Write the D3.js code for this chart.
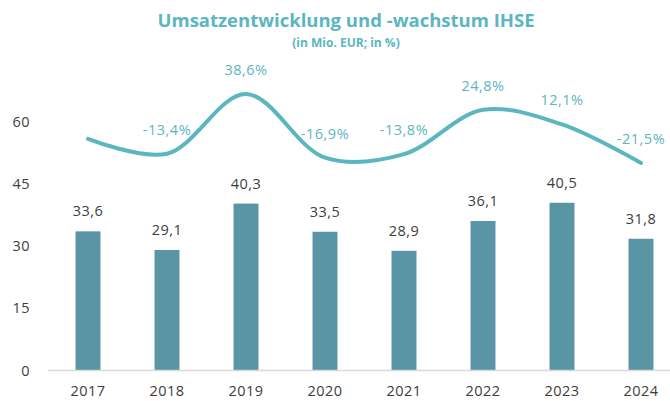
<!DOCTYPE html>
<html>
<head>
<meta charset="utf-8">
<script src="https://cdn.jsdelivr.net/npm/d3@7"></script>
<style>
  body { margin: 0; background: #fff; }
  svg { display: block; font-family: "Open Sans", sans-serif; }
  .num { letter-spacing: 0.5px; }
</style>
</head>
<body>
<svg id="chart" width="670" height="401"></svg>
<script>
var years = ['2017', '2018', '2019', '2020', '2021', '2022', '2023', '2024'];
var umsatz = [33.6, 29.1, 40.3, 33.5, 28.9, 36.1, 40.5, 31.8];
var wachstum = [-0.5, -13.4, 38.6, -16.9, -13.8, 24.8, 12.1, -21.5];
var wachstumLabels = ['', '-13,4%', '38,6%', '-16,9%', '-13,8%', '24,8%', '12,1%', '-21,5%'];
var yTicks = [0, 15, 30, 45, 60];

var barColour = '#5a95a6',
    lineColour = '#5bb6bf',
    textColour = '#3d3d3d';

var svg = d3.select('#chart');

var x = d3.scaleBand()
          .domain(years)
          .range([48.5, 680.5])
          .paddingInner(0.684)
          .paddingOuter(0.342);

var y = d3.scaleLinear()
          .domain([0, 60])
          .range([370.5, 122]);

// growth line sits on its own hidden scale
var yLine = d3.scaleLinear()
              .domain([-25, 40])
              .range([167, 92.4]);

var fmt = function(v) { return d3.format('.1f')(v).replace('.', ','); };

// title
svg.append('text')
   .attr('x', 346).attr('y', 27)
   .attr('text-anchor', 'middle')
   .attr('fill', lineColour)
   .attr('font-size', 18.5)
   .attr('font-weight', 700)
   .text('Umsatzentwicklung und -wachstum IHSE');

svg.append('text')
   .attr('x', 346).attr('y', 47)
   .attr('text-anchor', 'middle')
   .attr('fill', lineColour)
   .attr('font-size', 12)
   .attr('font-weight', 700)
   .text('(in Mio. EUR; in %)');

// y axis labels
svg.append('g')
   .selectAll('text')
   .data(yTicks)
   .enter().append('text')
   .attr('class', 'num')
   .attr('x', 30)
   .attr('y', function(d) { return y(d) + 5; })
   .attr('text-anchor', 'end')
   .attr('fill', textColour)
   .attr('font-size', 14.5)
   .text(function(d) { return d; });

// bars
svg.append('g')
   .selectAll('rect')
   .data(umsatz)
   .enter().append('rect')
   .attr('x', function(d, i) { return x(years[i]); })
   .attr('y', function(d) { return y(d); })
   .attr('width', x.bandwidth())
   .attr('height', function(d) { return y(0) - y(d); })
   .attr('fill', barColour);

// baseline
svg.append('line')
   .attr('x1', 48).attr('x2', 670)
   .attr('y1', y(0)).attr('y2', y(0))
   .attr('stroke', '#d9d9d9')
   .attr('stroke-width', 1.5);

// bar value labels
svg.append('g')
   .selectAll('text')
   .data(umsatz)
   .enter().append('text')
   .attr('class', 'num')
   .attr('x', function(d, i) { return x(years[i]) + x.bandwidth() / 2; })
   .attr('y', function(d) { return y(d) - 15; })
   .attr('text-anchor', 'middle')
   .attr('fill', textColour)
   .attr('font-size', 14.5)
   .text(function(d) { return fmt(d); });

// x axis labels
svg.append('g')
   .selectAll('text')
   .data(years)
   .enter().append('text')
   .attr('class', 'num')
   .attr('x', function(d) { return x(d) + x.bandwidth() / 2; })
   .attr('y', 396)
   .attr('text-anchor', 'middle')
   .attr('fill', textColour)
   .attr('font-size', 14.5)
   .text(function(d) { return d; });

// growth line
var line = d3.line()
             .x(function(d, i) { return x(years[i]) + x.bandwidth() / 2; })
             .y(function(d) { return yLine(d); })
             .curve(d3.curveCatmullRom.alpha(0.5));

svg.append('path')
   .datum(wachstum)
   .attr('d', line)
   .attr('fill', 'none')
   .attr('stroke', lineColour)
   .attr('stroke-width', 4)
   .attr('stroke-linecap', 'round');

svg.append('g')
   .selectAll('text')
   .data(wachstum)
   .enter().append('text')
   .attr('class', 'num')
   .attr('x', function(d, i) { return x(years[i]) + x.bandwidth() / 2; })
   .attr('y', function(d) { return yLine(d) - 19; })
   .attr('text-anchor', 'middle')
   .attr('fill', lineColour)
   .attr('font-size', 14.5)
   .text(function(d, i) { return wachstumLabels[i]; });
</script>
</body>
</html>
